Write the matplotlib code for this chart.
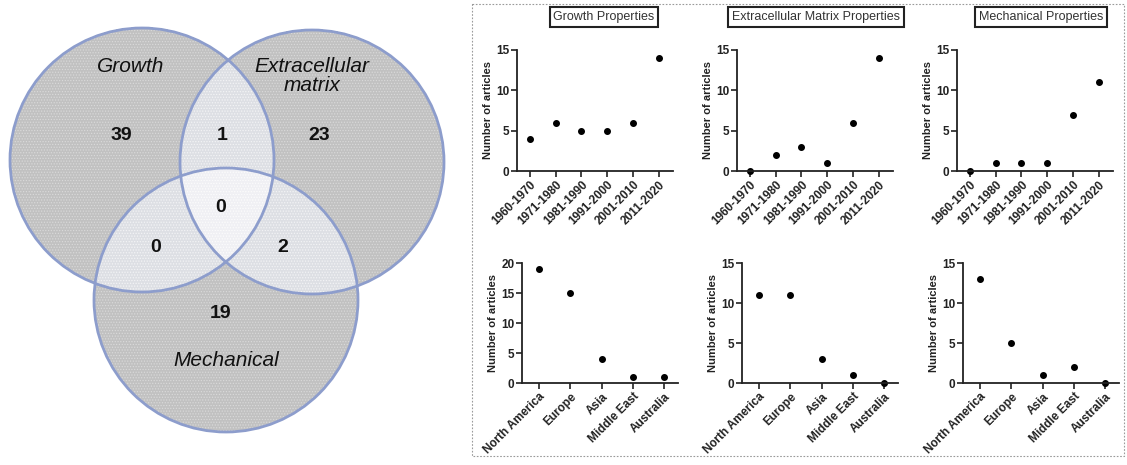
import numpy as np
import matplotlib.pyplot as plt
from matplotlib.patches import Circle, Rectangle

plt.rcParams['font.family'] = ['Liberation Sans', 'DejaVu Sans']

# Venn counts
venn_labels = ['Growth', 'Extracellular\nmatrix', 'Mechanical']
venn_counts = {'G': 39, 'E': 23, 'M': 19, 'GE': 1, 'GM': 0, 'EM': 2, 'GEM': 0}

# decade data
decades = ['1960-1970', '1971-1980', '1981-1990', '1991-2000', '2001-2010', '2011-2020']
growth_dec = [4, 6, 5, 5, 6, 14]
ecm_dec = [0, 2, 3, 1, 6, 14]
mech_dec = [0, 1, 1, 1, 7, 11]

# region data
regions = ['North America', 'Europe', 'Asia', 'Middle East', 'Australia']
growth_reg = [19, 15, 4, 1, 1]
ecm_reg = [11, 11, 3, 1, 0]
mech_reg = [13, 5, 1, 2, 0]

titles = ['Growth Properties', 'Extracellular Matrix Properties', 'Mechanical Properties']

W, H = 1127, 465
fig = plt.figure(figsize=(W / 100, H / 100), dpi=100)

# ---------- Venn diagram (pixel coordinates) ----------
ax = fig.add_axes([0, 0, 460 / W, 1])
ax.set_xlim(0, 460)
ax.set_ylim(465, 0)
ax.axis('off')

r = 132
centers = [(142, 160), (312, 162), (226, 300)]
xx, yy = np.meshgrid(np.arange(460) + 0.5, np.arange(465) + 0.5)
count = np.zeros_like(xx)
for cx, cy in centers:
    count += ((xx - cx) ** 2 + (yy - cy) ** 2) <= r ** 2
cols = np.array([[1, 1, 1], [0.76, 0.76, 0.76], [0.87, 0.875, 0.895], [0.945, 0.945, 0.96]])
img = cols[count.astype(int)]
ax.imshow(img, extent=(0, 460, 465, 0), interpolation='bilinear', zorder=0)

plt.rcParams['hatch.linewidth'] = 0.6
for cx, cy in centers:
    ax.add_patch(Circle((cx, cy), r, fill=False, hatch='......', edgecolor=(1, 1, 1, 0.35),
                        linewidth=0, zorder=1))
for cx, cy in centers:
    ax.add_patch(Circle((cx, cy), r, fill=False, edgecolor='#8d9dcc', linewidth=2, zorder=2))

lab_kw = dict(fontsize=15, style='italic', ha='center', va='center', color='#111111')
ax.text(131, 66, venn_labels[0], **lab_kw)
ax.text(312, 76, venn_labels[1], linespacing=1.0, **lab_kw)
ax.text(226, 360, venn_labels[2], **lab_kw)

num_kw = dict(fontsize=14, fontweight='bold', ha='center', va='center', color='#111111')
ax.text(121, 135, venn_counts['G'], **num_kw)
ax.text(222, 135, venn_counts['GE'], **num_kw)
ax.text(319, 135, venn_counts['E'], **num_kw)
ax.text(221, 207, venn_counts['GEM'], **num_kw)
ax.text(156, 247, venn_counts['GM'], **num_kw)
ax.text(283, 247, venn_counts['EM'], **num_kw)
ax.text(221, 313, venn_counts['M'], **num_kw)

# ---------- dotted frame around the panel ----------
frame = fig.add_axes([0, 0, 1, 1], zorder=-1)
frame.set_xlim(0, W)
frame.set_ylim(H, 0)
frame.axis('off')
frame.add_patch(Rectangle((472, 4), 652, 452, fill=False, edgecolor='#9a9a9a',
                          linewidth=0.8, linestyle=(0, (1.5, 1.5))))


def scatter_panel(left_px, top_px, bottom_px, cats, vals, ymax, yticks, xpad):
    w_px = 156
    axp = fig.add_axes([left_px / W, 1 - bottom_px / H, w_px / W, (bottom_px - top_px) / H])
    x = np.arange(len(cats))
    axp.plot(x, vals, 'o', color='black', markersize=4, clip_on=False)
    axp.set_xlim(xpad[0], len(cats) - 1 + xpad[1])
    axp.set_ylim(0, ymax)
    axp.set_yticks(yticks)
    axp.set_xticks(x)
    axp.set_xticklabels(cats, rotation=45, ha='right', rotation_mode='anchor')
    for s in ['top', 'right']:
        axp.spines[s].set_visible(False)
    for s in ['left', 'bottom']:
        axp.spines[s].set_linewidth(1.3)
        axp.spines[s].set_color('#222222')
    axp.tick_params(length=4, width=1.2, color='#222222', labelsize=8.5, pad=1.5)
    for t in axp.get_xticklabels() + axp.get_yticklabels():
        t.set_fontweight('bold')
        t.set_color('#222222')
    axp.set_ylabel('Number of articles', fontsize=8, fontweight='bold', color='#222222', labelpad=2)
    axp.patch.set_alpha(0)
    return axp


top_lefts = [517, 737, 957]
bot_lefts = [522, 742, 963]
title_x = [604, 816, 1041]
dec_data = [growth_dec, ecm_dec, mech_dec]
reg_data = [growth_reg, ecm_reg, mech_reg]
reg_max = [20, 15, 15]

for i in range(3):
    scatter_panel(top_lefts[i], 50, 171, decades, dec_data[i], 15, [0, 5, 10, 15], (-0.5, 0.55))
    scatter_panel(bot_lefts[i], 263, 383, regions, reg_data[i], reg_max[i],
                  list(range(0, reg_max[i] + 1, 5)), (-0.55, 0.45))
    fig.text(title_x[i] / W, 1 - 17 / H, titles[i], fontsize=9, ha='center', va='center',
             color='#333333',
             bbox=dict(boxstyle='square,pad=0.3', facecolor='white', edgecolor='#222222', linewidth=1.5))

fig.savefig('out.png', dpi=100)
